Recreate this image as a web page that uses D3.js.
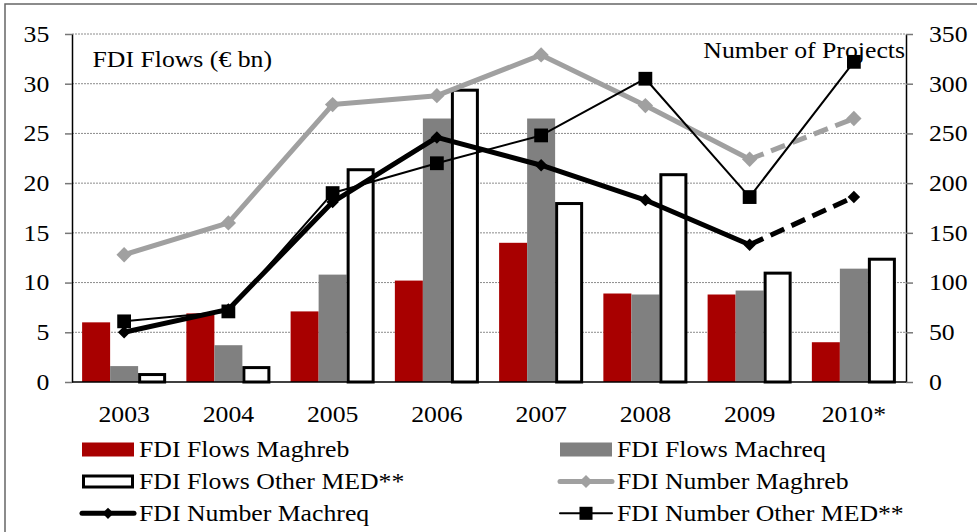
<!DOCTYPE html>
<html>
<head>
<meta charset="utf-8">
<script src="https://cdn.jsdelivr.net/npm/d3@7"></script>
<style>
  body { margin: 0; background: #fff; }
  text { font-family: "Liberation Serif", "Times New Roman", serif; font-size: 23px; fill: #000; }
</style>
</head>
<body>
<div id="chart-area"></div>
<script>
// chart values
let years = ["2003", "2004", "2005", "2006", "2007", "2008", "2009", "2010*"];
let flowsMaghreb = [6.0, 6.9, 7.1, 10.2, 14.0, 8.9, 8.8, 4.0];
let flowsMachreq = [1.6, 3.7, 10.8, 26.5, 26.5, 8.8, 9.2, 11.4];
let flowsOther = [0.9, 1.6, 21.5, 29.5, 18.1, 21.0, 11.1, 12.5];
let numMaghreb = [128, 160, 279, 288, 329, 278, 224, 265];
let numMachreq = [50, 73, 181, 246, 218, 183, 138, 186];
let numOther = [61, 71, 190, 220, 248, 305, 186, 322];
let leftTicks = [0, 5, 10, 15, 20, 25, 30, 35];
let rightTicks = [0, 50, 100, 150, 200, 250, 300, 350];

var width = 977,
	height = 532;
let plot = {left: 72, right: 906, top: 34, bottom: 382};
let sx = 1.12; // the type in the picture is a bit wider than Liberation Serif

let svg = d3.select("#chart-area").append("svg")
	.attr("width", width)
	.attr("height", height);

// frame round the chart (runs off the right and bottom edge)
svg.append("rect")
	.attr("x", 5).attr("y", 4)
	.attr("width", 1000).attr("height", 600)
	.attr("fill", "none")
	.attr("stroke", "#666")
	.attr("stroke-width", 1.5);

let x0 = d3.scaleBand()
	.domain(years)
	.range([plot.left, plot.right]);

let x1 = d3.scaleBand()
	.domain(["Maghreb", "Machreq", "Other"])
	.range([x0.bandwidth() * 0.097, x0.bandwidth() * 0.903]);

let yLeft = d3.scaleLinear()
	.domain([0, 35])
	.range([plot.bottom, plot.top]);

let yRight = d3.scaleLinear()
	.domain([0, 350])
	.range([plot.bottom, plot.top]);

// dotted grid
svg.append("g")
	.selectAll("line")
	.data(leftTicks.slice(1))
	.enter()
	.append("line")
	.attr("x1", plot.left).attr("x2", plot.right)
	.attr("y1", d => yLeft(d)).attr("y2", d => yLeft(d))
	.attr("stroke", "#8c8c8c")
	.attr("stroke-width", 1)
	.attr("stroke-dasharray", "2,1");

// axes
let yaxisL = d3.axisLeft(yLeft).tickValues(leftTicks).tickSize(7).tickSizeOuter(0);
let yaxisR = d3.axisRight(yRight).tickValues(rightTicks).tickSize(7).tickSizeOuter(0);

let gL = svg.append("g")
	.attr("transform", "translate(" + plot.left + ",0)")
	.call(yaxisL);
let gR = svg.append("g")
	.attr("transform", "translate(" + plot.right + ",0)")
	.call(yaxisR);

[gL, gR].forEach(g => {
	g.select(".domain").attr("stroke", "#000").attr("stroke-width", 1.5);
	g.selectAll(".tick line").attr("stroke", "#777").attr("stroke-width", 1.5);
	g.selectAll(".tick text")
		.attr("font-family", null)
		.attr("font-size", null)
		.attr("fill", "#000")
		.attr("transform", "scale(" + sx + ",1)");
});
gL.selectAll(".tick text").attr("x", -20.3);
gR.selectAll(".tick text").attr("x", 20.5);

// year labels
svg.append("g")
	.selectAll("text")
	.data(years)
	.enter()
	.append("text")
	.attr("text-anchor", "middle")
	.attr("transform", d => "translate(" + (x0(d) + x0.bandwidth() / 2) + ",421.5) scale(" + sx + ",1)")
	.text(d => d);

// bars
let barSeries = [
	{key: "Maghreb", values: flowsMaghreb, fill: "#a80000", stroke: "none", sw: 0},
	{key: "Machreq", values: flowsMachreq, fill: "#808080", stroke: "none", sw: 0},
	{key: "Other", values: flowsOther, fill: "#ffffff", stroke: "#000", sw: 3}
];

barSeries.forEach(s => {
	svg.append("g")
		.selectAll("rect")
		.data(s.values)
		.enter()
		.append("rect")
		.attr("x", (d, i) => x0(years[i]) + x1(s.key) + s.sw / 2)
		.attr("width", x1.bandwidth() - s.sw)
		.attr("y", d => yLeft(d) + s.sw / 2)
		.attr("height", d => Math.max(0, plot.bottom - yLeft(d) - s.sw / 2))
		.attr("fill", s.fill)
		.attr("stroke", s.stroke)
		.attr("stroke-width", s.sw);
});

// bottom axis line
svg.append("line")
	.attr("x1", plot.left).attr("x2", plot.right)
	.attr("y1", plot.bottom).attr("y2", plot.bottom)
	.attr("stroke", "#000")
	.attr("stroke-width", 1.5);

// lines on the right axis
let cx = i => x0(years[i]) + x0.bandwidth() / 2;
let line = d3.line().x(d => cx(d.i)).y(d => yRight(d.v));

let lineSeries = [
	{values: numMaghreb, color: "#a0a0a0", sw: 5, marker: "diamond", msize: 150, dashLast: true},
	{values: numMachreq, color: "#000", sw: 5, marker: "diamond", msize: 100, dashLast: true},
	{values: numOther, color: "#000", sw: 2, marker: "square", msize: 190, dashLast: false}
];

lineSeries.forEach(s => {
	let pts = s.values.map((v, i) => ({i: i, v: v}));
	let solid = s.dashLast ? pts.slice(0, pts.length - 1) : pts;
	svg.append("path")
		.attr("d", line(solid))
		.attr("fill", "none")
		.attr("stroke", s.color)
		.attr("stroke-width", s.sw)
		.attr("stroke-linejoin", "round");
	if (s.dashLast) {
		svg.append("path")
			.attr("d", line(pts.slice(pts.length - 2)))
			.attr("fill", "none")
			.attr("stroke", s.color)
			.attr("stroke-width", s.sw)
			.attr("stroke-dasharray", "15,8");
	}
	let sym = d3.symbol()
		.type(s.marker == "square" ? d3.symbolSquare : d3.symbolDiamond2)
		.size(s.msize);
	svg.append("g")
		.selectAll("path")
		.data(pts)
		.enter()
		.append("path")
		.attr("d", sym)
		.attr("transform", d => "translate(" + cx(d.i) + "," + yRight(d.v) + ")")
		.attr("fill", s.color);
});

// axis titles inside the plot
svg.append("text")
	.attr("transform", "translate(92.5,66.5) scale(" + sx + ",1)")
	.text("FDI Flows (€ bn)");
svg.append("text")
	.attr("text-anchor", "end")
	.attr("transform", "translate(905,58.3) scale(" + sx + ",1)")
	.text("Number of Projects");

// legend
let legendItems = [
	{label: "FDI Flows Maghreb", kind: "bar", fill: "#a80000", stroke: "none", col: 0, row: 0},
	{label: "FDI Flows Machreq", kind: "bar", fill: "#808080", stroke: "none", col: 1, row: 0},
	{label: "FDI Flows Other MED**", kind: "bar", fill: "#fff", stroke: "#000", col: 0, row: 1},
	{label: "FDI Number Maghreb", kind: "line", color: "#a0a0a0", sw: 5, marker: d3.symbolDiamond2, msize: 110, col: 1, row: 1},
	{label: "FDI Number Machreq", kind: "line", color: "#000", sw: 5, marker: d3.symbolDiamond2, msize: 80, col: 0, row: 2},
	{label: "FDI Number Other MED**", kind: "line", color: "#000", sw: 2, marker: d3.symbolSquare, msize: 170, col: 1, row: 2}
];
let colX = [82, 560];
let rowY = [449.5, 481.5, 513.3];

legendItems.forEach(d => {
	let g = svg.append("g")
		.attr("transform", "translate(" + colX[d.col] + "," + rowY[d.row] + ")");
	if (d.kind == "bar") {
		g.append("rect")
			.attr("x", d.stroke == "none" ? 0 : 1.5)
			.attr("y", -7 + (d.stroke == "none" ? 0 : 1.5))
			.attr("width", d.stroke == "none" ? 52 : 49)
			.attr("height", d.stroke == "none" ? 14 : 11)
			.attr("fill", d.fill)
			.attr("stroke", d.stroke)
			.attr("stroke-width", 3);
	} else {
		g.append("line")
			.attr("x1", 0).attr("x2", 52)
			.attr("stroke", d.color)
			.attr("stroke-width", d.sw)
			.attr("stroke-linecap", "round");
		g.append("path")
			.attr("d", d3.symbol().type(d.marker).size(d.msize))
			.attr("transform", "translate(26,0)")
			.attr("fill", d.color);
	}
	g.append("text")
		.attr("transform", "translate(57,7.8) scale(" + sx + ",1)")
		.text(d.label);
});
</script>
</body>
</html>
